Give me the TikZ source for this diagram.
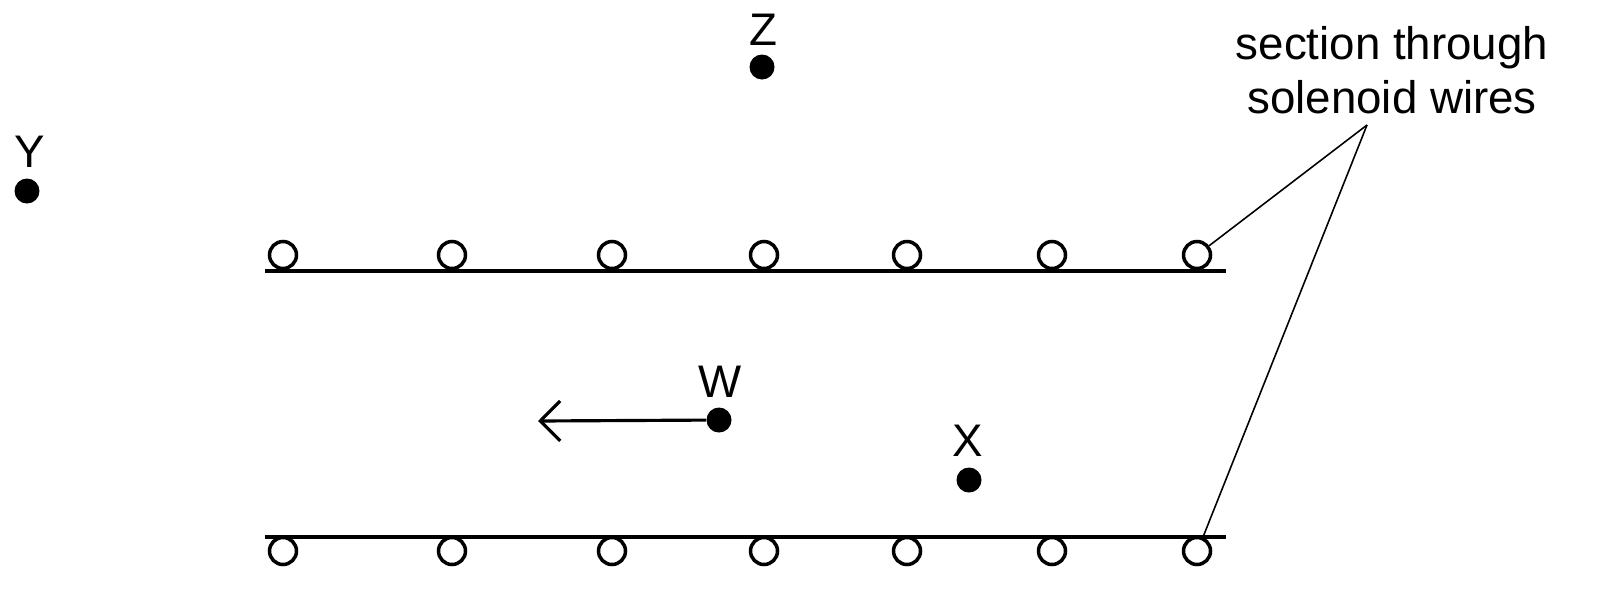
\documentclass[tikz,border=0pt]{standalone}
\usepackage{fontspec}
\setmainfont{Liberation Sans}
\usetikzlibrary{arrows.meta}
\begin{document}
\begin{tikzpicture}[x=0.02cm,y=-0.02cm,
  wire/.style={circle,draw,line width=2pt,minimum size=0.54cm,inner sep=0pt,fill=white},
  dot/.style={circle,fill=black,minimum size=0.5cm,inner sep=0pt},
  lab/.style={font=\fontsize{26}{31}\selectfont,inner sep=0pt},
  rail/.style={line width=2.1pt},
  lead/.style={line width=0.9pt}]
\useasboundingbox (0,0) rectangle (1604,593);
\coordinate (t1) at (265,271); \coordinate (t2) at (1226,271);
\coordinate (b1) at (265,537); \coordinate (b2) at (1226,537);
\draw[rail] (t1) -- (t2);
\draw[rail] (b1) -- (b2);
\foreach \i/\x in {1/283,2/452,3/612,4/764,5/907,6/1052,7/1197}{
  \node[wire] (tw\i) at (\x,255) {};
  \node[wire] (bw\i) at (\x,551) {};
}
\node[dot] (Z) at (762,67) {}; \node[lab] at (763,30) {Z};
\node[dot] (Y) at (27,191) {}; \node[lab] at (30,152) {Y};
\node[dot] (W) at (719,420) {}; \node[lab] at (720,382) {W};
\node[dot] (X) at (969,480) {}; \node[lab] at (968,441) {X};
\coordinate (A) at (538,421);
\draw[line width=1.8pt,-{Straight Barb[length=0.4cm,width=0.8cm,line width=1.8pt]}] (W) -- (A);
\node[lab,align=center] (S) at (1392,70) {section through\\solenoid wires};
\coordinate (L) at (1367,125);
\draw[lead] (L) -- (tw7);
\draw[lead] (L) -- (1203,537);
\end{tikzpicture}
\end{document}
